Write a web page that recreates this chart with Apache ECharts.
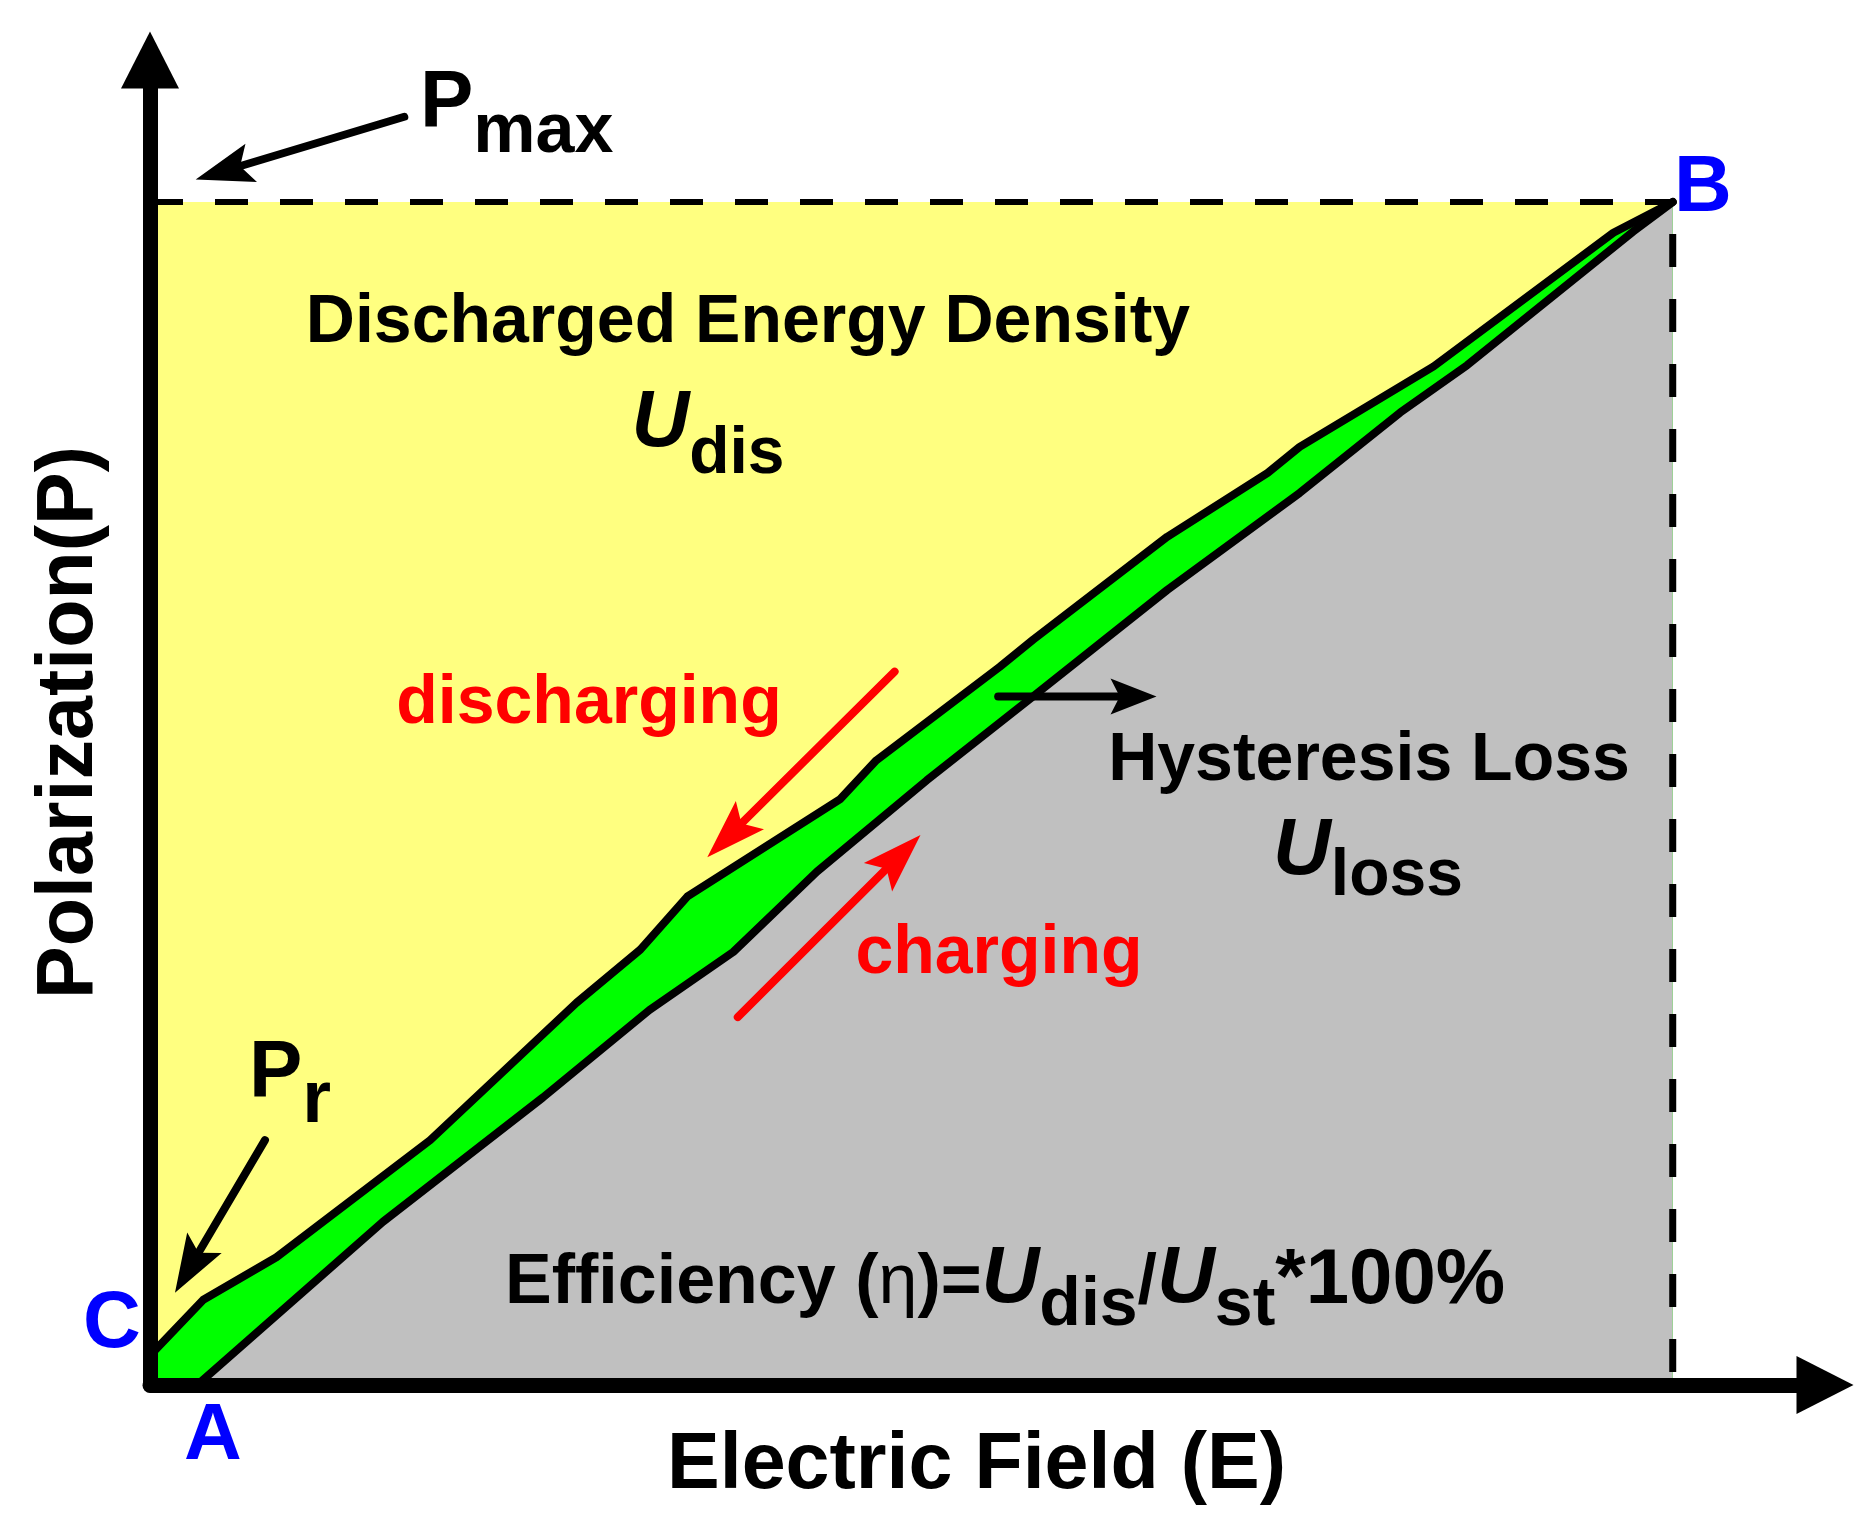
<!DOCTYPE html>
<html>
<head>
<meta charset="utf-8">
<script src="https://cdn.jsdelivr.net/npm/echarts@6/dist/echarts.min.js"></script>
<style>
html,body{margin:0;padding:0;background:#ffffff;}
#chart{width:1875px;height:1535px;}
</style>
</head>
<body>
<div id="chart"></div>
<script>
// ---------------- data (normalized units; point B = (100, 100)) ----------------
const dischargeE = [0, 3.5, 8.3, 18.4, 28.0, 32.2, 35.3, 45.3, 47.7, 55.8, 58.0, 66.8, 73.4, 75.5, 84.3, 96.1, 100];
const dischargeP = [2.5, 7.2, 10.8, 20.7, 32.3, 36.8, 41.3, 49.5, 52.8, 60.7, 63.0, 71.7, 77.1, 79.3, 86.1, 97.4, 100];
const chargeE = [3.1, 15.3, 25.8, 32.8, 38.3, 43.8, 51.0, 58.0, 66.8, 75.5, 82.1, 86.5, 97.4, 100];
const chargeP = [0, 13.8, 24.3, 31.7, 36.6, 43.4, 51.1, 58.2, 67.2, 75.4, 82.2, 86.2, 97.5, 100];
const pointB = [100, 100];
const axisMaxE = 110;
const axisMaxP = 112;

// annotation arrows: [fromE, fromP, toE, toP]
const pmaxArrow = [16.7, 107.2, 3.0, 101.9];
const prArrow = [7.55, 20.7, 1.64, 7.8];
const dischargingArrow = [48.9, 60.3, 36.6, 44.6];
const chargingArrow = [38.6, 31.1, 50.6, 46.5];
const lossArrow = [55.7, 58.2, 66.1, 58.2];

// ---------------- build ----------------
const FONT = "'Liberation Sans', Arial, Helvetica, sans-serif";
const toPairs = (xs, ys) => xs.map((x, i) => [x, ys[i]]);
const discharge = toPairs(dischargeE, dischargeP);
const charge = toPairs(chargeE, chargeP);
const pmaxLine = [[0, pointB[1]], [pointB[0], pointB[1]]];
const emaxLine = [[pointB[0], pointB[1]], [pointB[0], 0]];

const chart = echarts.init(document.getElementById('chart'), null, {renderer: 'canvas'});

function areaSeries(name, data, color, z) {
  return {
    name, type: 'line', data, symbol: 'none', showSymbol: false, silent: true, z,
    lineStyle: {width: 0, opacity: 0},
    areaStyle: {color, opacity: 1, origin: 'start'},
    emphasis: {disabled: true}
  };
}
function strokeSeries(name, data, style, z) {
  return {
    name, type: 'line', data, symbol: 'none', showSymbol: false, silent: true, z,
    lineStyle: style, emphasis: {disabled: true}
  };
}
function arrowSeries(name, seg, st) {
  return {
    name, type: 'custom', coordinateSystem: 'cartesian2d', data: [seg], silent: true, z: 6,
    renderItem: function (params, api) {
      const p1 = api.coord([api.value(0), api.value(1)]);
      const p2 = api.coord([api.value(2), api.value(3)]);
      const dx = p2[0] - p1[0], dy = p2[1] - p1[1];
      const len = Math.hypot(dx, dy);
      const ux = dx / len, uy = dy / len, nx = -uy, ny = ux;
      const L = st.headLength, W = st.headWidth / 2, N = L * 0.8;
      const base = [p2[0] - ux * L, p2[1] - uy * L];
      const notch = [p2[0] - ux * N, p2[1] - uy * N];
      return {
        type: 'group',
        children: [
          {type: 'line', shape: {x1: p1[0], y1: p1[1], x2: notch[0] + ux * 3, y2: notch[1] + uy * 3},
           style: {stroke: st.color, lineWidth: st.width, lineCap: 'round'}},
          {type: 'polygon', shape: {points: [p2, [base[0] + nx * W, base[1] + ny * W], notch, [base[0] - nx * W, base[1] - ny * W]]},
           style: {fill: st.color}}
        ]
      };
    }
  };
}

function tok(size, color, pb, extra) {
  return Object.assign({fontSize: size, fontWeight: 'bold', fontFamily: FONT, fill: color,
    verticalAlign: 'bottom', padding: [0, 0, pb, 0]}, extra || {});
}
function plainText(text, x, y, size, color) {
  return {type: 'text', x, y, z: 100, silent: true,
    style: {text, fontSize: size, fontWeight: 'bold', fontFamily: FONT, fill: color,
      align: 'center', verticalAlign: 'middle', textAlign: 'center', textVerticalAlign: 'middle'}};
}
function richText(text, x, y, align, rich) {
  return {type: 'text', x, y, z: 100, silent: true,
    style: {text, align, verticalAlign: 'bottom', textAlign: align, textVerticalAlign: 'bottom', rich}};
}

const axisCommon = {
  type: 'value', min: 0, z: 10, zlevel: 1,
  axisLine: {show: true, onZero: false, symbol: ['none', 'triangle'], symbolSize: [58, 57],
    lineStyle: {color: '#000', width: 15, cap: 'round'}},
  axisTick: {show: false}, axisLabel: {show: false}, splitLine: {show: false},
  nameLocation: 'middle'
};

const option = {
  animation: false,
  backgroundColor: '#ffffff',
  grid: {left: 150, right: 50, top: 60, bottom: 150, containLabel: false, outerBoundsMode: 'none'},
  xAxis: Object.assign({}, axisCommon, {
    max: axisMaxE, name: 'Electric Field (E)', nameGap: 42,
    nameTextStyle: {fontSize: 79, fontWeight: 'bold', fontFamily: FONT, color: '#000', padding: [0, 22, 0, 0]}
  }),
  yAxis: Object.assign({}, axisCommon, {
    max: axisMaxP, name: 'Polarization(P)', nameGap: 40, nameRotate: 90,
    nameTextStyle: {fontSize: 79, fontWeight: 'bold', fontFamily: FONT, color: '#000'}
  }),
  series: [
    areaSeries('Stored region', pmaxLine, '#FFFF80', 1),
    areaSeries('Loop region', discharge, '#00FF00', 1),
    areaSeries('Hysteresis loss region', charge, '#C0C0C0', 1),
    strokeSeries('Discharging', discharge, {color: '#000', width: 8, join: 'round', cap: 'round'}, 4),
    strokeSeries('Charging', charge, {color: '#000', width: 8, join: 'round', cap: 'round'}, 4),
    strokeSeries('Pmax level', pmaxLine, {color: '#000', width: 6, type: [33, 32]}, 4),
    strokeSeries('Emax level', emaxLine, {color: '#000', width: 7, type: [33, 32], dashOffset: 33}, 4),
    arrowSeries('Pmax arrow', pmaxArrow, {color: '#000', width: 8, headLength: 58, headWidth: 40}),
    arrowSeries('Pr arrow', prArrow, {color: '#000', width: 8, headLength: 58, headWidth: 40}),
    arrowSeries('discharging arrow', dischargingArrow, {color: '#FF0000', width: 8, headLength: 60, headWidth: 40}),
    arrowSeries('charging arrow', chargingArrow, {color: '#FF0000', width: 8, headLength: 60, headWidth: 40}),
    arrowSeries('loss arrow', lossArrow, {color: '#000', width: 8, headLength: 46, headWidth: 36})
  ],
  graphic: [
    richText('{p|P}{s|max}', 420, 167.7, 'left', {p: tok(80, '#000', 23.4), s: tok(70, '#000', 0)}),
    richText('{p|P}{s|r}', 249, 1138.4, 'left', {p: tok(80, '#000', 24.1), s: tok(74, '#000', 0)}),
    plainText('Discharged Energy Density', 748, 323.4, 68, '#000'),
    richText('{u|U}{s|dis}', 708, 488.1, 'center', {u: tok(80, '#000', 23.8, {fontStyle: 'italic'}), s: tok(66, '#000', 0)}),
    plainText('Hysteresis Loss', 1369, 761.4, 68, '#000'),
    richText('{u|U}{s|loss}', 1368, 910.1, 'center', {u: tok(80, '#000', 17.9, {fontStyle: 'italic'}), s: tok(66, '#000', 0)}),
    plainText('discharging', 589, 704.4, 68, '#FF0000'),
    plainText('charging', 999, 954.4, 68, '#FF0000'),
    richText('{m|Efficiency (}{e|η}{m|)=}{u|U}{s|dis}{m|/}{u|U}{s|st}{b|*100%}', 505, 1340, 'left', {
      m: tok(70, '#000', 21.2), e: tok(70, '#000', 21.2, {fontWeight: 'normal'}),
      u: tok(80, '#000', 20, {fontStyle: 'italic'}), s: tok(68, '#000', 0),
      b: tok(78, '#000', 20)}),
    plainText('A', 213, 1437.3, 80, '#0000FF'),
    plainText('B', 1703, 189.3, 80, '#0000FF'),
    plainText('C', 112, 1325.3, 80, '#0000FF')
  ]
};
chart.setOption(option);
</script>
</body>
</html>
